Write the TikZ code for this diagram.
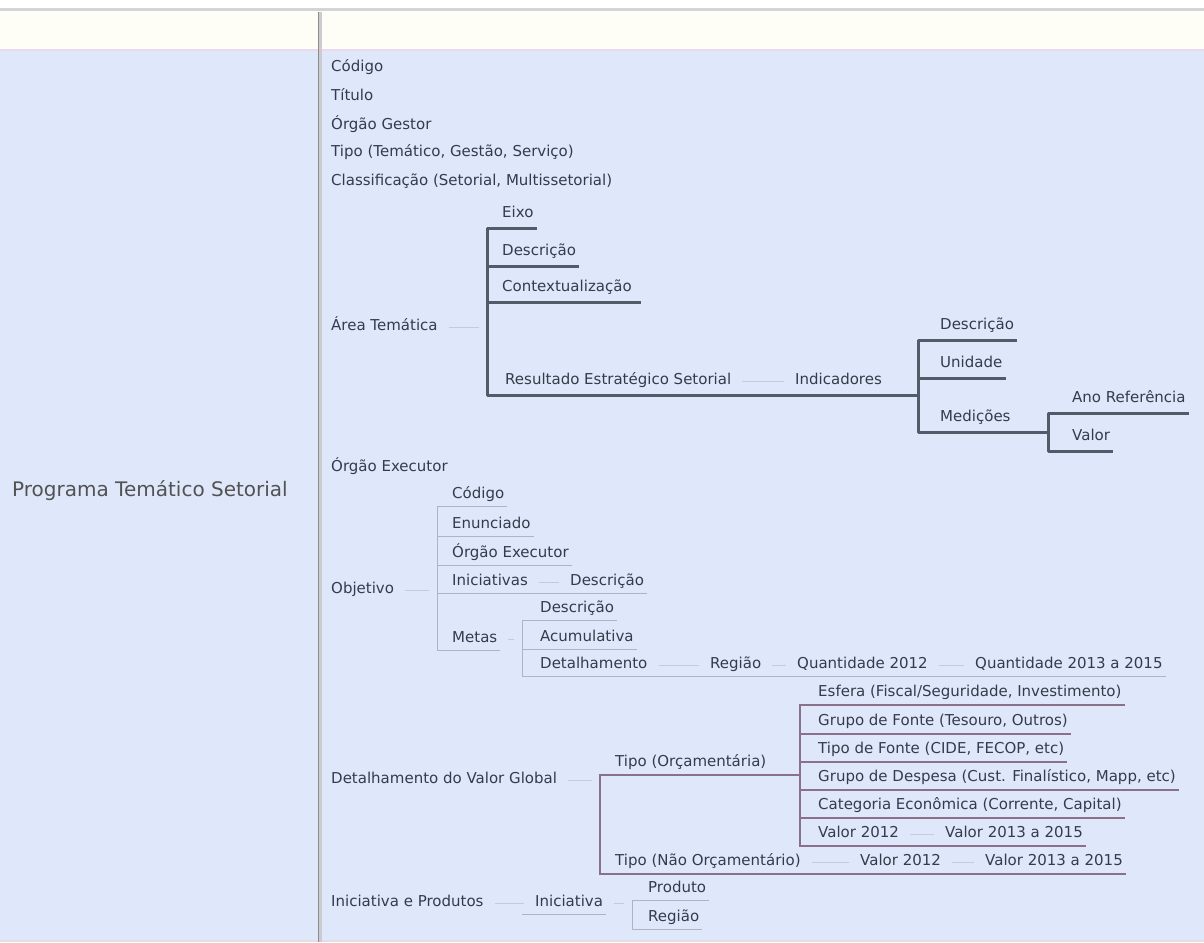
\documentclass[tikz,border=0pt]{standalone}
\usepackage{fontspec}
\setmainfont{DejaVu Sans}
\definecolor{bgc}{HTML}{DFE8FB}
\definecolor{headc}{HTML}{FEFEF7}
\definecolor{txt}{HTML}{343C4A}
\definecolor{heavyc}{HTML}{535A68}
\definecolor{thinc}{HTML}{AEB4C4}
\definecolor{mauvec}{HTML}{8A7088}
\definecolor{stubc}{HTML}{C4CCDC}
\begin{document}
\begin{tikzpicture}[x=1pt,y=-1pt,
    every node/.style={font=\fontsize{15}{18}\selectfont, text=txt, text height=11pt, text depth=3.5pt},
    item/.style={anchor=west, inner xsep=3pt, inner ysep=4.5pt},
    heavyitem/.style={item, inner ysep=7.5pt},
    heavy/.style={draw=heavyc, line width=3pt, line join=round},
    thinln/.style={draw=thinc, line width=1pt},
    mauve/.style={draw=mauvec, line width=1.5pt},
    stub/.style={draw=stubc, line width=1pt, shorten <=8pt, shorten >=8pt}]
    \useasboundingbox (0,0) rectangle (1204,942);

    % table frame
    \fill[white] (0,0) rectangle (1204,50);
    \fill[headc] (0,12) rectangle (1204,48);
    \fill[bgc] (0,51) rectangle (1204,942);
    \draw[black!17, line width=3pt] (0,10) -- (1204,10);
    \draw[violet!15, line width=2pt] (0,50) -- (1204,50);
    \draw[black!12, line width=1.5pt] (0,941) -- (1204,941);
    \draw[blue!8!black!20, line width=3pt] (320,12) -- (320,942);
    \draw[black!45, line width=1pt] (318,12) -- (318,942);

    \node[font=\fontsize{20}{24}\selectfont, text=black!68] (prog) at (150,493) {Programa Temático Setorial};

    % branch columns
    \coordinate (atX) at (487,0);
    \coordinate (inX) at (918,0);
    \coordinate (mdX) at (1048,0);
    \coordinate (obX) at (437,0);
    \coordinate (mtX) at (522,0);
    \coordinate (dvX) at (600,0);
    \coordinate (toX) at (800,0);
    \coordinate (prX) at (632,0);

    % first level
    \node[item] (cod)  at (328,68)  {Código};
    \node[item] (tit)  at (328,97)  {Título};
    \node[item] (orgG) at (328,126) {Órgão Gestor};
    \node[item] (tipo) at (328,153) {Tipo (Temático, Gestão, Serviço)};
    \node[item] (clas) at (328,182) {Classificação (Setorial, Multissetorial)};
    \node[item] (area) at (328,327) {Área Temática};
    \node[item] (orgE) at (328,468) {Órgão Executor};
    \node[item] (obj)  at (328,590) {Objetivo};
    \node[item] (det)  at (328,780) {Detalhamento do Valor Global};
    \node[item] (ini)  at (328,903) {Iniciativa e Produtos};

    % Area Tematica
    \node[heavyitem] (eixo)  at (499,214) {Eixo};
    \node[heavyitem] (desc1) at (499,252) {Descrição};
    \node[heavyitem] (ctx)   at (499,288) {Contextualização};
    \node[heavyitem] (res)   at (502,381) {Resultado Estratégico Setorial};
    \node[heavyitem] (ind)   at (792,381) {Indicadores};
    \node[heavyitem] (desc2) at (937,326) {Descrição};
    \node[heavyitem] (unid)  at (937,364) {Unidade};
    \node[heavyitem] (med)   at (937,418) {Medições};
    \node[heavyitem] (ano)   at (1069,399) {Ano Referência};
    \node[heavyitem] (val)   at (1069,437) {Valor};

    \draw[stub] (area.east) -- (atX |- area.east);
    \draw[heavy] (eixo.south east) -- (atX |- eixo.south) -- (atX |- res.south) -- (inX |- ind.south);
    \draw[heavy] (atX |- desc1.south) -- (desc1.south east);
    \draw[heavy] (atX |- ctx.south) -- ([xshift=6pt]ctx.south east);
    \draw[stub] (res.east) -- (ind.west);
    \draw[heavy] (desc2.south east) -- (inX |- desc2.south) -- (inX |- med.south) -- (mdX |- med.south);
    \draw[heavy] (inX |- unid.south) -- (unid.south east);
    \draw[heavy] (ano.south east) -- (mdX |- ano.south) -- (mdX |- val.south) -- (val.south east);

    % Objetivo
    \node[item] (ocod) at (449,495) {Código};
    \node[item] (oenu) at (449,525) {Enunciado};
    \node[item] (oorg) at (449,554) {Órgão Executor};
    \node[item] (oini) at (449,582) {Iniciativas};
    \node[item] (odsc) at (567,582) {Descrição};
    \node[item] (mdsc) at (537,609) {Descrição};
    \node[item] (meta) at (449,639) {Metas};
    \node[item] (acum) at (537,638) {Acumulativa};
    \node[item] (dtl)  at (537,665) {Detalhamento};
    \node[item] (reg)  at (707,665) {Região};
    \node[item] (q12)  at (794,665) {Quantidade 2012};
    \node[item] (q13)  at (972,665) {Quantidade 2013 a 2015};

    \draw[stub] (obj.east) -- (obX |- obj.east);
    \draw[thinln] (ocod.south east) -- (obX |- ocod.south) -- (obX |- meta.south) -- (meta.south east);
    \foreach \n in {oenu,oorg}
        \draw[thinln] (obX |- \n.south) -- (\n.south east);
    \draw[thinln] (obX |- oini.south) -- (odsc.south east);
    \draw[stub] (oini.east) -- (odsc.west);
    \draw[stub] (meta.east) -- (mtX |- meta.east);
    \draw[thinln] (mdsc.south east) -- (mtX |- mdsc.south) -- (mtX |- dtl.south) -- (q13.south east);
    \draw[thinln] (mtX |- acum.south) -- (acum.south east);
    \draw[stub] (dtl.east) -- (reg.west);
    \draw[stub] (reg.east) -- (q12.west);
    \draw[stub] (q12.east) -- (q13.west);

    % Detalhamento do Valor Global
    \node[item] (torc) at (612,763) {Tipo (Orçamentária)};
    \node[item] (esf)  at (815,693) {Esfera (Fiscal/Seguridade, Investimento)};
    \node[item] (gfon) at (815,722) {Grupo de Fonte (Tesouro, Outros)};
    \node[item] (tfon) at (815,750) {Tipo de Fonte (CIDE, FECOP, etc)};
    \node[item] (gdes) at (815,778) {Grupo de Despesa (Cust. Finalístico, Mapp, etc)};
    \node[item] (cat)  at (815,806) {Categoria Econômica (Corrente, Capital)};
    \node[item] (v12)  at (815,834) {Valor 2012};
    \node[item] (v13)  at (942,834) {Valor 2013 a 2015};
    \node[item] (tnor) at (612,862) {Tipo (Não Orçamentário)};
    \node[item] (nv12) at (857,862) {Valor 2012};
    \node[item] (nv13) at (982,862) {Valor 2013 a 2015};

    \draw[stub] (det.east) -- (dvX |- det.east);
    \draw[mauve] (torc.south west) -- (dvX |- torc.south) -- (dvX |- tnor.south) -- (nv13.south east);
    \draw[mauve] (dvX |- torc.south) -- (toX |- torc.south);
    \draw[mauve] (esf.south east) -- (toX |- esf.south) -- (toX |- v12.south) -- (v13.south east);
    \foreach \n in {gfon,tfon,gdes,cat}
        \draw[mauve] (toX |- \n.south) -- (\n.south east);
    \draw[stub] (v12.east) -- (v13.west);
    \draw[stub] (tnor.east) -- (nv12.west);
    \draw[stub] (nv12.east) -- (nv13.west);

    % Iniciativa e Produtos
    \node[item] (iniN) at (532,903) {Iniciativa};
    \node[item] (prod) at (645,889) {Produto};
    \node[item] (regi) at (645,918) {Região};

    \draw[stub] (ini.east) -- (iniN.west);
    \draw[thinln] ([xshift=-10pt]iniN.south west) -- (iniN.south east);
    \draw[stub] (iniN.east) -- (prX |- iniN.east);
    \draw[thinln] (prod.south east) -- (prX |- prod.south) -- (prX |- regi.south) -- (regi.south east);
\end{tikzpicture}
\end{document}
